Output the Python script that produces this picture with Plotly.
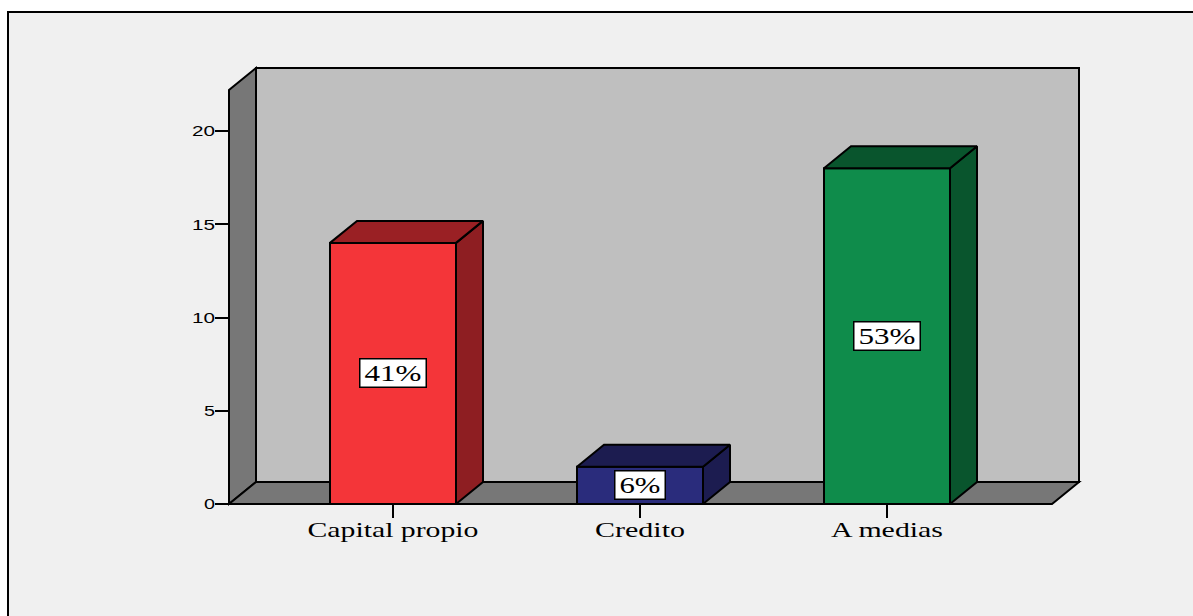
import json
import plotly.graph_objects as go

categories = ["Capital propio", "Credito", "A medias"]
values = [14, 2, 18]
percent_labels = ["41%", "6%", "53%"]
y_ticks = [0, 5, 10, 15, 20]
front_colors = ["#F43539", "#2A2C7C", "#0F8C4B"]
side_colors = ["#8E1E22", "#1C1C50", "#09552D"]
top_colors = ["#9A2024", "#1C1C50", "#09552D"]

WALL_COLOR = "#777777"
BACK_COLOR = "#BFBFBF"
PAPER_COLOR = "#F0F0F0"
SERIF = "Liberation Serif"
SANS = "Liberation Sans"

# the original's text is stretched sideways: rendered widths in pixels
cat_text_widths = [171, 90, 112]
pct_text_widths = [57, 41, 57]
tick_text_widths = [11, 11, 23, 23, 23]

# scale of the original axes
PX_PER_CAT = 247.0
PX_PER_UNIT = 18.65
X0_PX, Y0_PX = 393.0, 504.0
BAR_WIDTH = 126 / PX_PER_CAT
DEPTH_X = 27 / PX_PER_CAT
DEPTH_Y = 22 / PX_PER_UNIT
FLOOR_L = (229 - X0_PX) / PX_PER_CAT
FLOOR_R = (1052 - X0_PX) / PX_PER_CAT
WALL_TOP = (504 - 90) / PX_PER_UNIT

# plot area, padded so that edge lines are not clipped
L, R, T, B = 225, 1083, 64, 508
W, H = 1193, 616
x_range = [(L - X0_PX) / PX_PER_CAT, (R - X0_PX) / PX_PER_CAT]
y_range = [(Y0_PX - B) / PX_PER_UNIT, (Y0_PX - T) / PX_PER_UNIT]
LINE = dict(color="black", width=2)


def path(points):
    return "M " + " L ".join(f"{x},{y}" for x, y in points) + " Z"


wall_back = [(FLOOR_L + DEPTH_X, DEPTH_Y), (FLOOR_R + DEPTH_X, DEPTH_Y),
             (FLOOR_R + DEPTH_X, WALL_TOP + DEPTH_Y), (FLOOR_L + DEPTH_X, WALL_TOP + DEPTH_Y)]
wall_left = [(FLOOR_L, 0), (FLOOR_L + DEPTH_X, DEPTH_Y),
             (FLOOR_L + DEPTH_X, WALL_TOP + DEPTH_Y), (FLOOR_L, WALL_TOP)]
wall_floor = [(FLOOR_L, 0), (FLOOR_R, 0), (FLOOR_R + DEPTH_X, DEPTH_Y), (FLOOR_L + DEPTH_X, DEPTH_Y)]

shapes = [dict(type="rect", xref="paper", yref="paper", layer="below",
               x0=(8 - L) / (R - L), x1=(W + 20 - L) / (R - L),
               y0=(B - H - 20) / (B - T), y1=(B - 12) / (B - T),
               fillcolor=PAPER_COLOR, line=LINE)]
for pts, col in [(wall_back, BACK_COLOR), (wall_left, WALL_COLOR), (wall_floor, WALL_COLOR)]:
    shapes.append(dict(type="path", xref="x", yref="y", layer="below",
                       path=path(pts), fillcolor=col, line=LINE))

fig = go.Figure()
fig.add_trace(go.Bar(x=list(range(len(values))), y=values, width=BAR_WIDTH,
                     marker=dict(color=front_colors, line=LINE), hoverinfo="skip"))

for i, v in enumerate(values):
    xl, xr = i - BAR_WIDTH / 2, i + BAR_WIDTH / 2
    side = [(xr, 0), (xr + DEPTH_X, DEPTH_Y), (xr + DEPTH_X, v + DEPTH_Y), (xr, v), (xr, 0)]
    top = [(xl, v), (xr, v), (xr + DEPTH_X, v + DEPTH_Y), (xl + DEPTH_X, v + DEPTH_Y), (xl, v)]
    for pts, col in [(side, side_colors[i]), (top, top_colors[i])]:
        fig.add_trace(go.Scatter(x=[p[0] for p in pts], y=[p[1] for p in pts], mode="lines",
                                 fill="toself", fillcolor=col, line=LINE, hoverinfo="skip"))

annotations = [dict(x=i, y=v / 2, xref="x", yref="y", text=lab, showarrow=False,
                    width=w + 6, height=25, align="center", valign="middle",
                    font=dict(family=SERIF, size=23, color="black"),
                    bgcolor="white", bordercolor="black", borderwidth=1.5, borderpad=1)
               for i, (v, lab, w) in enumerate(zip(values, percent_labels, pct_text_widths))]

fig.update_layout(
    width=W, height=H, autosize=False, showlegend=False,
    margin=dict(l=L, r=W - R, t=T, b=H - B, pad=0),
    paper_bgcolor="white", plot_bgcolor="rgba(0,0,0,0)",
    shapes=shapes, annotations=annotations,
    xaxis=dict(range=x_range, tickmode="array", tickvals=list(range(len(categories))),
               ticktext=categories, ticks="outside", ticklen=13, tickwidth=2, tickcolor="black",
               showgrid=False, zeroline=False, showline=False, ticklabelstandoff=-7,
               anchor="free", position=(B - Y0_PX) / (B - T),
               tickfont=dict(family=SERIF, size=22, color="black"), fixedrange=True),
    yaxis=dict(range=y_range, tickmode="array", tickvals=y_ticks,
               ticks="outside", ticklen=14, tickwidth=2, tickcolor="black",
               showgrid=False, zeroline=False, showline=False, ticklabelstandoff=-3,
               anchor="free", position=(229 - L) / (R - L),
               tickfont=dict(family=SANS, size=15, color="black"), fixedrange=True),
)

stretch = """
function fit(sel, widths) {
  document.querySelectorAll(sel).forEach(function (el, i) {
    el.setAttribute('textLength', widths[i]);
    el.setAttribute('lengthAdjust', 'spacingAndGlyphs');
  });
}
fit('.xtick text', %s);
fit('.ytick text', %s);
fit('.annotation-text', %s);
""" % (json.dumps(cat_text_widths), json.dumps(tick_text_widths), json.dumps(pct_text_widths))

fig.write_html("out.html", config={"displayModeBar": False},
               post_script="document.body.style.margin='0';" + stretch)
